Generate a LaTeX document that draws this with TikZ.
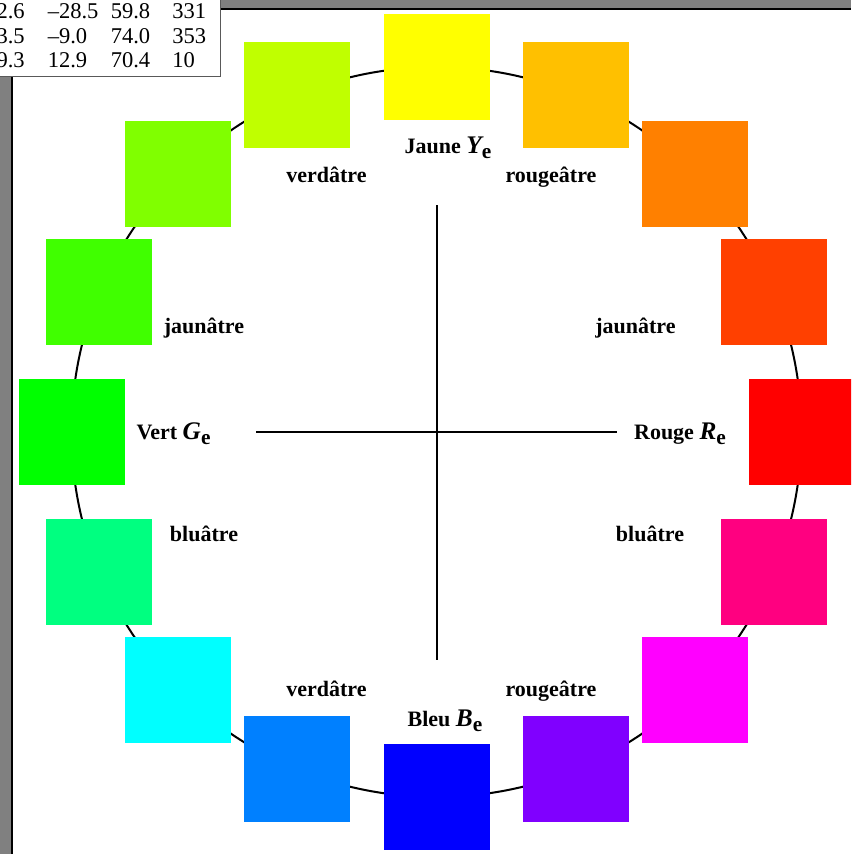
\documentclass[tikz,border=0pt]{standalone}
\usepackage{fontspec}
\setmainfont{Liberation Serif}
\usepackage{xcolor}
\usepackage{tikz}
\usetikzlibrary{calc}
\definecolor{winframe}{RGB}{128, 128, 128}
\definecolor{h0}{RGB}{255, 255, 0}
\definecolor{h1}{RGB}{255, 192, 0}
\definecolor{h2}{RGB}{255, 128, 0}
\definecolor{h3}{RGB}{255, 64, 0}
\definecolor{h4}{RGB}{255, 0, 0}
\definecolor{h5}{RGB}{255, 0, 128}
\definecolor{h6}{RGB}{255, 0, 255}
\definecolor{h7}{RGB}{128, 0, 255}
\definecolor{h8}{RGB}{0, 0, 255}
\definecolor{h9}{RGB}{0, 128, 255}
\definecolor{h10}{RGB}{0, 255, 255}
\definecolor{h11}{RGB}{0, 255, 128}
\definecolor{h12}{RGB}{0, 255, 0}
\definecolor{h13}{RGB}{64, 255, 0}
\definecolor{h14}{RGB}{128, 255, 0}
\definecolor{h15}{RGB}{192, 255, 0}
\newcommand{\hsub}[2]{{\fontsize{19}{21}\selectfont\itshape #1}\raisebox{-3.8pt}{\fontsize{16}{18}\selectfont #2}}

\begin{document}
\begin{tikzpicture}[
    x=0.75pt, y=-0.75pt,
    patch/.style={rectangle, fill=#1, minimum size=79.5pt, inner sep=0pt},
    lbl/.style={font=\fontsize{16.5}{19}\selectfont\bfseries, anchor=base, inner sep=0pt},
    num/.style={font=\fontsize{16.9}{20}\selectfont, inner sep=0pt},
    axisline/.style={line width=1.5pt}
  ]
  \useasboundingbox (0,0) rectangle (851,854);
  \clip (0,0) rectangle (851,854);
  % window frame
  \fill[winframe] (0,0) rectangle (851,8.5);
  \fill[winframe] (0,0) rectangle (11.5,854);
  \draw[line width=1.5pt] (12.3,854) -- (12.3,9.3) -- (851,9.3);

  \coordinate (c) at (436.5,432);
  \draw[axisline] (c) circle (365);
  \foreach \i in {0,...,15} {
    \node[patch=h\i] (p\i) at ([shift={(-90+22.5*\i:365)}]c) {};
  }

  \coordinate (hl) at (256,432);
  \coordinate (hr) at (617,432);
  \coordinate (vt) at (437,205);
  \coordinate (vb) at (437,660);
  \draw[axisline] (hl) -- (hr);
  \draw[axisline] (vt) -- (vb);

  \node[lbl] (lY) at (448,153) {Jaune \hsub{Y}{e}};
  \node[lbl] (lB) at (445,726) {Bleu \hsub{B}{e}};
  \node[lbl] (lG) at (173.5,439) {Vert \hsub{G}{e}};
  \node[lbl] (lR) at (680,439) {Rouge \hsub{R}{e}};
  \node[lbl] (v1) at (326.5,182.5) {verdâtre};
  \node[lbl] (r1) at (551,182.5) {rougeâtre};
  \node[lbl] (j1) at (204,333) {jaunâtre};
  \node[lbl] (j2) at (635.5,333) {jaunâtre};
  \node[lbl] (b1) at (204,541.5) {bluâtre};
  \node[lbl] (b2) at (650,541.5) {bluâtre};
  \node[lbl] (v2) at (326.5,696) {verdâtre};
  \node[lbl] (r2) at (551,696) {rougeâtre};

  % data table
  \fill[white, draw=gray!70!black, line width=0.75pt] (-5,-5) rectangle (220.5,76);
  \foreach \na/\nb/\nc/\nd [count=\r] in {2.6/--28.5/59.8/331, 3.5/--9.0/74.0/353, 9.3/12.9/70.4/10} {
    \node[num, anchor=base east] (ta\r) at (25,{18.5+24.5*(\r-1)}) {\na};
    \node[num, anchor=base west] (tb\r) at (47.5,{18.5+24.5*(\r-1)}) {\nb};
    \node[num, anchor=base west] (tc\r) at (110.5,{18.5+24.5*(\r-1)}) {\nc};
    \node[num, anchor=base west] (td\r) at (172,{18.5+24.5*(\r-1)}) {\nd};
  }
\end{tikzpicture}
\end{document}
